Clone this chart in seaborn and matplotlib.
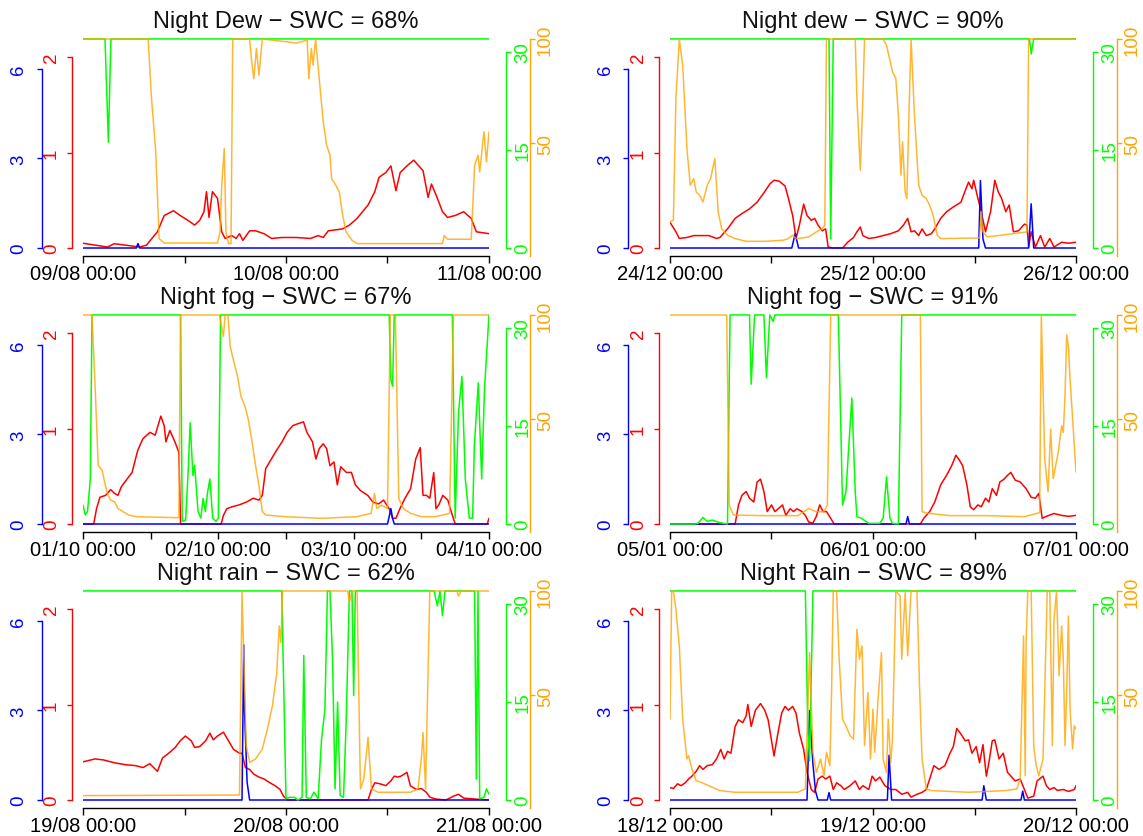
import numpy as np
import pandas as pd
import matplotlib
matplotlib.use("Agg")
import matplotlib.pyplot as plt
import seaborn as sns

# all series: hours since the first date label, and the value
# ---- Night Dew - SWC = 68% (09/08 -> 11/08)
dew68_days = ["09/08", "10/08", "11/08"]
dew68_red_h = [0, 2.9, 3.7, 5.0, 6.7, 7.5, 8.8, 9.6, 10.7, 11.5, 12.4, 13.2, 13.8, 14.3, 14.6, 14.9, 15.3, 15.9, 16.4, 16.8,
               17.6, 18.1, 18.5, 18.9, 19.7, 20.4, 21.4, 22.3, 23.5, 25.2, 26.9, 27.8, 28.4, 29.0, 30.7, 31.5, 32.4, 33.7, 34.5, 35.0,
               35.8, 36.4, 37.0, 37.5, 38.3, 39.1, 40.2, 40.8, 41.2, 41.9, 42.5, 43.1, 44.0, 45.0, 45.9, 46.5, 48.0]
dew68_red = [0.05, 0.01, 0.045, 0.03, 0.01, 0.03, 0.17, 0.34, 0.39, 0.34, 0.29, 0.24, 0.29, 0.38, 0.59, 0.32, 0.59, 0.52, 0.17, 0.10,
             0.13, 0.10, 0.15, 0.08, 0.18, 0.18, 0.15, 0.10, 0.11, 0.11, 0.10, 0.13, 0.11, 0.18, 0.20, 0.24, 0.31, 0.45, 0.59, 0.74,
             0.79, 0.86, 0.60, 0.79, 0.86, 0.92, 0.81, 0.53, 0.67, 0.52, 0.38, 0.32, 0.34, 0.38, 0.31, 0.17, 0.15]
dew68_orange_h = [0, 7.7, 8.1, 8.6, 9.0, 9.6, 15.9, 16.2, 16.4, 16.7, 16.9, 17.2, 17.5, 17.7, 19.7, 19.9, 20.2, 20.5, 20.8, 21.2,
                  24.0, 25.2, 26.5, 26.7, 27.0, 27.2, 27.5, 27.96, 28.4, 28.8, 29.2, 29.4, 29.9, 30.3, 30.7, 31.1, 31.8, 32.4, 42.5, 42.7,
                  43.1, 45.9, 46.3, 46.7, 46.9, 47.4, 47.7, 48.0]
dew68_orange = [100, 100, 71.6, 46, 4.5, 2.4, 2.4, 7.7, 30, 47.6, 7.7, 2.1, 2.1, 100, 100, 90.7, 81, 95.5, 82.7, 100,
                98.7, 98, 99.5, 81, 95.5, 87.5, 100, 79.6, 60.4, 49.2, 44.4, 33.2, 30, 26.8, 15.7, 7.7, 3.7, 2.1, 2.1, 6,
                4.2, 4.2, 39.6, 44.4, 36.4, 55.6, 41.2, 55.6]
dew68_green_h = [0, 2.6, 3.0, 3.3, 48]
dew68_green = [32, 32, 16.2, 32, 32]
dew68_blue_h = [0, 6.3, 6.5, 6.7, 48]
dew68_blue = [0, 0, 0.15, 0, 0]

# ---- Night dew - SWC = 90% (24/12 -> 26/12)
dew90_days = ["24/12", "25/12", "26/12"]
dew90_red_h = [0, 0.2, 0.7, 1.1, 2.0, 2.8, 3.7, 4.6, 5.5, 5.9, 6.8, 7.7, 8.5, 9.4, 10.3, 11.2, 11.8, 12.3, 12.9, 13.6,
               14.0, 14.5, 14.9, 15.3, 15.8, 16.2, 16.7, 17.1, 17.5, 18.0, 18.4, 18.7, 19.3, 20.4, 21.0, 21.7, 22.1, 22.5, 22.8, 23.5,
               24.3, 25.2, 26.1, 27.0, 27.6, 28.1, 28.5, 28.9, 29.4, 29.8, 30.3, 30.9, 31.3, 32.0, 32.7, 33.5, 34.4, 34.9, 35.3, 35.7,
               35.9, 36.4, 36.8, 37.3, 37.9, 38.4, 38.8, 39.2, 39.7, 40.1, 40.6, 41.2, 41.9, 42.2, 42.4, 42.7, 43.2, 43.8, 44.3, 44.9,
               45.4, 46.3, 47.1, 48.0]
dew90_red = [0.27, 0.24, 0.17, 0.10, 0.11, 0.13, 0.13, 0.13, 0.10, 0.11, 0.20, 0.31, 0.36, 0.41, 0.48, 0.59, 0.67, 0.71, 0.70, 0.65,
             0.52, 0.34, 0.10, 0.24, 0.46, 0.34, 0.29, 0.31, 0.24, 0.18, 0.20, 0.01, 0, 0, 0.06, 0.11, 0.17, 0.22, 0.13, 0.10,
             0.11, 0.13, 0.15, 0.18, 0.24, 0.31, 0.17, 0.18, 0.13, 0.20, 0.13, 0.15, 0.20, 0.31, 0.38, 0.43, 0.48, 0.60, 0.69, 0.62,
             0.71, 0.52, 0.38, 0.17, 0.38, 0.71, 0.59, 0.52, 0.38, 0.45, 0.17, 0.18, 0.25, 0.24, 0.01, 0.17, 0.01, 0.13, 0.01, 0.10,
             0.01, 0.06, 0.05, 0.06]
dew90_orange_h = [0, 0.4, 0.7, 1.1, 1.5, 2.0, 2.4, 2.8, 3.1, 3.5, 3.9, 4.4, 4.8, 5.3, 5.5, 5.7, 6.1, 6.8, 7.7, 9.0,
                  11.2, 13.4, 14.0, 14.5, 14.9, 15.6, 16.4, 17.3, 18.0, 18.3, 18.5, 21.9, 22.1, 22.5, 22.8, 23.0, 25.2, 25.6, 26.3, 26.7,
                  27.0, 27.3, 27.5, 27.8, 28.0, 28.3, 28.5, 28.9, 29.4, 29.8, 30.3, 30.7, 31.1, 31.6, 32.0, 36.6, 36.8, 37.0, 37.5, 42.2,
                  42.4, 48.0]
dew90_orange = [12.5, 13.3, 71.6, 100, 87.5, 47.6, 30, 33.2, 26.8, 25.2, 22, 30, 33.2, 42.8, 30, 17.3, 9.3, 6.1, 4.5, 3.2,
                3.2, 3.7, 4.5, 6.1, 4.5, 4.8, 5.3, 7.7, 9.3, 10.9, 100, 100, 71.6, 37.2, 71.6, 100, 100, 97.1, 84.3, 81.2,
                63.6, 34.8, 50.8, 26.8, 23.6, 71.6, 100, 63.6, 30, 25.2, 23.6, 20.4, 15.7, 6.1, 4.5, 4.8, 17.3, 7.7, 5.3, 7.7,
                100, 100]
dew90_green_h = [0, 18.8, 19.0, 19.3, 42.5, 42.7, 43.0, 48]
dew90_green = [32, 32, 1.4, 32, 32, 29.7, 32, 32]
dew90_blue_h = [0, 14.4, 14.8, 15.2, 36.5, 36.7, 37.0, 37.3, 42.4, 42.7, 43.0, 48]
dew90_blue = [0, 0, 0.48, 0, 0, 2.26, 0.3, 0, 0, 1.48, 0, 0]

# ---- Night fog - SWC = 67% (01/10 -> 04/10)
fog67_days = ["01/10", "02/10", "03/10", "04/10"]
fog67_red_h = [0, 1.9, 2.4, 3.0, 4.0, 4.9, 5.6, 6.2, 6.8, 7.8, 8.7, 9.7, 10.6, 11.3, 11.9, 12.8, 13.8, 14.4, 14.7, 15.4,
               16.3, 17.0, 17.3, 24.5, 24.9, 25.5, 26.4, 27.7, 29.0, 30.2, 31.2, 31.8, 32.4, 33.4, 34.3, 35.3, 36.2, 37.2, 38.1, 39.1,
               39.7, 40.7, 41.3, 41.9, 42.6, 43.2, 43.8, 44.5, 45.1, 45.7, 46.7, 47.6, 48.3, 49.2, 50.5, 51.4, 52.4, 53.3, 54.3, 54.9,
               55.5, 56.2, 57.1, 58.1, 59.0, 59.8, 60.3, 60.9, 61.5, 62.2, 62.6, 63.1, 63.8, 64.7, 65.3, 66.0, 71.7, 72.0]
fog67_red = [0, 0, 0.16, 0.28, 0.30, 0.36, 0.32, 0.30, 0.39, 0.47, 0.54, 0.77, 0.89, 0.93, 0.96, 0.93, 1.13, 1.03, 0.86, 0.98,
             0.86, 0.75, 0, 0, 0.09, 0.16, 0.18, 0.20, 0.23, 0.27, 0.25, 0.30, 0.58, 0.68, 0.77, 0.86, 0.96, 1.03, 1.05, 1.07,
             0.96, 0.86, 0.68, 0.79, 0.84, 0.79, 0.61, 0.65, 0.41, 0.60, 0.54, 0.54, 0.41, 0.35, 0.30, 0.23, 0.21, 0.25, 0.16, 0.06,
             0.06, 0.16, 0.27, 0.37, 0.68, 0.80, 0.30, 0.30, 0.27, 0.54, 0.16, 0.20, 0.30, 0.25, 0.13, 0, 0, 0.06]
fog67_orange_h = [0, 1.6, 2.1, 2.7, 3.4, 3.7, 4.3, 4.9, 5.6, 6.2, 7.1, 8.1, 9.4, 17.0, 17.3, 24.2, 24.9, 25.2, 25.7, 26.1,
                  26.8, 27.4, 28.0, 28.7, 29.3, 29.9, 30.6, 31.2, 31.8, 32.4, 35.9, 42.3, 48.6, 51.1, 51.7, 52.1, 53.0, 54.0, 54.5, 55.4,
                  56.0, 56.8, 58.1, 60.0, 62.5, 65.0, 65.7, 72.0]
fog67_orange = [100, 100, 69, 28, 25.6, 21.7, 14.6, 11.4, 10.6, 7.4, 5.9, 4.3, 3.5, 3.0, 100, 100, 89.7, 100, 100, 85,
                77, 70.7, 61.2, 56.5, 50.2, 40.7, 28, 18.5, 5.9, 4.3, 3.5, 2.7, 3.5, 5.1, 14.6, 7.4, 9, 7.4, 100, 100,
                12.2, 7.4, 5.1, 3.5, 3.5, 5.1, 100, 100]
fog67_green_h = [0, 0.4, 0.8, 1.3, 1.6, 17.3, 17.6, 18.2, 18.7, 19.0, 19.5, 19.8, 20.4, 20.9, 21.3, 21.7, 22.1, 22.5, 23.0, 23.6,
                 24.0, 24.4, 54.3, 54.6, 54.9, 55.2, 65.5, 66.0, 66.6, 67.2, 67.8, 68.5, 69.1, 69.4, 70.1, 70.7, 71.2, 72.0]
fog67_green = [2.9, 1.4, 1.9, 6.9, 32, 32, 0.4, 0.6, 9, 15.5, 7.4, 9, 1.9, 0.9, 3.9, 1.9, 4.9, 6.9, 0.9, 0.4,
               0.9, 32, 32, 22.1, 21.1, 32, 32, 0.9, 17.1, 22.6, 6.9, 0.9, 0.9, 12, 21.6, 6.9, 20.6, 32]
fog67_blue_h = [0, 54.0, 54.3, 54.6, 54.9, 55.2, 72]
fog67_blue = [0, 0, 0.25, 0.52, 0.19, 0, 0]

# ---- Night fog - SWC = 91% (05/01 -> 07/01)
fog91_days = ["05/01", "06/01", "07/01"]
fog91_red_h = [0, 7.7, 8.1, 8.5, 9.0, 9.4, 9.9, 10.3, 10.7, 11.1, 11.5, 12.0, 12.4, 12.8, 13.3, 13.7, 14.2, 14.6, 15.0, 15.6,
               16.0, 16.4, 16.9, 17.3, 17.7, 18.1, 18.5, 19.0, 19.4, 29.6, 30.0, 30.7, 31.3, 32.0, 32.7, 33.3, 33.8, 34.2, 34.6, 35.1,
               35.5, 35.9, 36.4, 36.8, 37.3, 37.7, 38.1, 38.6, 39.0, 39.5, 39.9, 40.3, 40.8, 41.4, 42.1, 42.7, 43.2, 43.6, 44.0, 44.5,
               45.4, 46.3, 47.1, 48.0]
fog91_red = [0, 0, 0.20, 0.30, 0.34, 0.27, 0.23, 0.44, 0.47, 0.34, 0.13, 0.20, 0.13, 0.16, 0.20, 0.09, 0.16, 0.13, 0.16, 0.13,
             0.09, 0.02, 0.01, 0.08, 0.20, 0.13, 0.13, 0.06, 0, 0, 0.06, 0.13, 0.23, 0.41, 0.51, 0.61, 0.72, 0.67, 0.61, 0.41,
             0.18, 0.15, 0.20, 0.18, 0.27, 0.23, 0.37, 0.30, 0.44, 0.47, 0.51, 0.54, 0.46, 0.44, 0.37, 0.28, 0.27, 0.32, 0.06, 0.08,
             0.11, 0.09, 0.08, 0.09]
fog91_orange_h = [0, 6.7, 7.0, 7.5, 11.2, 15.1, 16.4, 17.3, 18.2, 18.6, 19.0, 29.6, 29.8, 30.5, 33.1, 37.5, 41.9, 43.4, 43.7, 43.9,
                  44.3, 44.7, 45.0, 45.3, 45.6, 45.9, 46.3, 46.5, 46.7, 46.9, 47.1, 47.3, 47.6, 48.0]
fog91_orange = [100, 100, 9.0, 4.3, 4.0, 4.0, 7.4, 5.9, 5.9, 9.0, 100, 100, 5.9, 5.1, 4.0, 4.0, 3.5, 5.1, 5.4, 100,
                31.2, 15.4, 45.4, 21.7, 28, 34.3, 47, 43.8, 61.2, 90.5, 85, 69.1, 50.2, 24.8]
fog91_green_h = [0, 2.8, 3.3, 3.9, 4.4, 5.0, 5.9, 6.8, 7.1, 9.4, 9.6, 10.0, 11.1, 11.4, 11.8, 12.2, 12.4, 19.9, 20.4, 20.8,
                 21.5, 21.9, 22.1, 22.6, 23.5, 24.8, 25.2, 25.6, 26.0, 26.3, 27.0, 27.4, 48.0]
fog91_green = [0, 0, 0.1, 1.0, 0.4, 0.6, 0.2, 0, 32, 32, 21.4, 32, 32, 22.4, 32, 31, 32, 32, 2.9, 4.9,
               19.3, 4.9, 1.1, 0.9, 0.1, 0.1, 0.9, 7.2, 0.9, 0.1, 0, 32, 32]
fog91_blue_h = [0, 27.9, 28.1, 28.3, 48]
fog91_blue = [0, 0, 0.25, 0, 0]

# ---- Night rain - SWC = 62% (19/08 -> 21/08)
rain62_days = ["19/08", "20/08", "21/08"]
rain62_red_h = [0, 0.5, 1.4, 2.4, 3.7, 5.0, 6.2, 7.1, 7.9, 8.8, 9.4, 10.0, 10.9, 11.5, 12.1, 12.8, 13.2, 13.8, 14.5, 15.0,
                15.4, 15.9, 16.6, 17.2, 17.8, 18.5, 18.8, 19.2, 19.7, 20.2, 20.8, 21.4, 22.1, 22.7, 23.3, 23.7, 24.2, 33.7, 34.1, 34.5,
                35.1, 35.8, 36.4, 36.8, 37.2, 37.6, 38.3, 38.7, 39.4, 40.0, 40.6, 41.0, 41.7, 42.9, 43.8, 44.4, 45.0, 46.3, 48.0]
rain62_red = [0.40, 0.41, 0.43, 0.42, 0.39, 0.37, 0.36, 0.34, 0.38, 0.30, 0.44, 0.48, 0.55, 0.62, 0.67, 0.62, 0.55, 0.56, 0.62, 0.70,
              0.63, 0.67, 0.71, 0.62, 0.53, 0.49, 0.49, 0.34, 0.32, 0.27, 0.24, 0.22, 0.18, 0.15, 0.11, 0.04, 0, 0, 0.11, 0.18,
              0.17, 0.15, 0.20, 0.25, 0.24, 0.25, 0.29, 0.15, 0.11, 0.12, 0.08, 0.03, 0.01, 0, 0.04, 0.06, 0.02, 0.01, 0]
rain62_orange_h = [0, 18.5, 18.8, 19.3, 19.7, 20.4, 21.2, 21.8, 22.4, 22.7, 22.9, 23.2, 23.4, 23.6, 31.3, 31.5, 31.8, 32.4, 32.8, 33.2,
                   33.7, 34.1, 34.9, 38.7, 39.6, 40.0, 40.2, 40.5, 41.0, 44.2, 44.4, 44.7, 48.0]
rain62_orange = [2.1, 2.4, 100, 26, 18, 19.6, 24.4, 33.9, 45.1, 54.6, 60.2, 83.3, 75.3, 100, 100, 94.4, 100, 100, 5.3, 10,
                 30, 5.3, 3.7, 3.7, 5.3, 19.6, 32.3, 5.3, 100, 100, 97.6, 100, 100]
rain62_green_h = [0, 23.5, 24.0, 24.4, 25.0, 25.4, 25.9, 26.1, 26.4, 26.9, 27.3, 27.8, 28.2, 28.6, 28.9, 29.2, 29.5, 29.8, 30.1, 30.4,
                  30.8, 31.1, 31.5, 31.8, 32.0, 32.2, 41.5, 41.9, 42.2, 42.5, 42.8, 46.3, 46.5, 46.7, 46.9, 47.4, 47.7, 48.0]
rain62_green = [32, 32, 0.2, 0.4, 0.4, 0, 0.4, 22.1, 0.4, 0.2, 1.2, 0.2, 9.3, 13.9, 32, 32, 21.6, 1.7, 15, 0.7,
                0.4, 11.4, 32, 32, 16, 32, 32, 29.7, 32, 28.2, 32, 32, 3.2, 32, 0.2, 0.4, 1.7, 0.9]
rain62_blue_h = [0, 18.8, 19.0, 19.1, 19.4, 19.7, 48]
rain62_blue = [0, 0, 5.2, 3.0, 0.6, 0, 0]

# ---- Night Rain - SWC = 89% (18/12 -> 20/12)
rain89_days = ["18/12", "19/12", "20/12"]
rain89_red_h = [0, 0.4, 0.9, 1.3, 1.8, 2.2, 2.6, 3.1, 3.5, 3.9, 4.4, 5.0, 5.5, 6.0, 6.4, 6.8, 7.2, 7.7, 8.1, 8.6,
                9.0, 9.2, 9.6, 10.1, 10.7, 11.2, 11.6, 12.3, 12.7, 13.2, 13.6, 14.0, 14.5, 14.9, 15.3, 15.8, 16.2, 16.7, 17.1, 17.5,
                18.0, 18.4, 18.9, 19.3, 19.7, 20.2, 20.6, 21.3, 21.9, 22.4, 22.8, 23.5, 23.9, 24.3, 24.8, 25.4, 26.1, 26.7, 27.4, 28.1,
                28.5, 29.2, 29.8, 30.3, 30.7, 31.2, 31.8, 32.5, 33.1, 33.5, 33.9, 34.4, 34.9, 35.3, 35.7, 36.2, 36.6, 37.0, 37.4, 37.7,
                38.1, 38.4, 38.9, 39.4, 39.9, 40.3, 40.8, 41.4, 41.9, 42.3, 43.0, 43.4, 44.1, 44.5, 44.9, 45.4, 45.8, 46.5, 47.1, 47.8,
                48.0]
rain89_red = [0.13, 0.12, 0.17, 0.15, 0.18, 0.22, 0.25, 0.30, 0.36, 0.32, 0.36, 0.37, 0.43, 0.53, 0.43, 0.51, 0.49, 0.77, 0.84, 0.81,
              0.88, 1.00, 0.77, 0.94, 1.01, 0.94, 0.84, 0.46, 0.67, 0.91, 0.98, 0.94, 0.98, 0.91, 0.70, 0.53, 0.29, 0.11, 0.08, 0.22,
              0.25, 0.22, 0.25, 0.11, 0.18, 0.15, 0.11, 0.15, 0.20, 0.11, 0.15, 0.11, 0.25, 0.20, 0.24, 0.15, 0.11, 0.11, 0.06, 0.08,
              0.03, 0.06, 0.08, 0.11, 0.22, 0.36, 0.32, 0.36, 0.49, 0.56, 0.75, 0.69, 0.62, 0.63, 0.49, 0.56, 0.39, 0.58, 0.25, 0.39,
              0.62, 0.63, 0.43, 0.49, 0.29, 0.25, 0.20, 0.22, 0.11, 0.02, 0.04, 0.20, 0.25, 0.15, 0.11, 0.13, 0.10, 0.11, 0.09, 0.11,
              0.15]
rain89_orange_h = [0.0, 0.2, 0.4, 0.7, 1.1, 1.5, 2.0, 2.2, 2.6, 3.1, 3.7, 4.6, 5.9, 7.7, 11.2, 15.1, 16.0, 16.5, 16.9, 17.3,
                   17.8, 18.2, 18.5, 18.9, 19.1, 19.3, 19.7, 20.0, 20.4, 20.8, 21.3, 21.7, 22.1, 22.4, 22.7, 23.0, 23.4, 23.7, 24.0, 24.2,
                   24.6, 25.0, 25.2, 25.6, 25.8, 26.1, 26.3, 26.7, 27.2, 27.4, 27.8, 28.1, 28.5, 29.2, 29.5, 29.8, 30.3, 30.9, 35.3, 39.7,
                   41.0, 41.4, 41.8, 42.0, 42.1, 42.3, 42.7, 43.0, 43.3, 43.6, 44.1, 44.3, 44.6, 44.9, 45.2, 45.4, 45.7, 46.0, 46.3, 46.5,
                   46.7, 46.9, 47.1, 47.3, 47.6, 47.8, 48.0]
rain89_orange = [38.7, 100, 100, 91.2, 73.7, 38.7, 19.6, 21.2, 14.8, 9.2, 8.4, 6.8, 4.5, 3.7, 3.7, 3.7, 5.3, 70.5, 22.8, 13.2,
                 19.6, 11.6, 22.8, 16.4, 51.4, 100, 100, 67.4, 38.7, 35.5, 30.7, 29.1, 81.7, 67.4, 73.7, 26, 51.4, 19.6, 43.5, 22.8,
                 48.2, 70.5, 19.6, 13.2, 38.7, 18, 29.1, 100, 97.6, 67.4, 99.2, 69, 100, 100, 54.6, 19.6, 5.3, 4.5, 3.7, 4.5,
                 5.3, 10, 78.5, 11.6, 75.3, 100, 100, 26, 16.4, 11.6, 19.6, 51.4, 100, 100, 26, 86.5, 100, 59.4, 83.3, 67.4,
                 26, 51.4, 88, 43.5, 24.4, 35.5, 33.9]
rain89_green_h = [0, 16.0, 16.3, 16.5, 16.9, 48]
rain89_green = [32, 32, 10.5, 6.0, 32, 32]
rain89_blue_h = [0, 16.2, 16.5, 16.9, 17.2, 17.5, 18.6, 18.8, 19.0, 25.7, 25.9, 26.2, 36.9, 37.1, 37.4, 41.5, 41.7, 41.9, 48]
rain89_blue = [0, 0, 3.0, 1.2, 0.3, 0, 0, 0.25, 0, 0, 1.5, 0, 0, 0.48, 0, 0, 0.3, 0, 0]

panels = [
    ("Night Dew \u2212 SWC = 68%", dew68_days, (dew68_blue_h, dew68_blue), (dew68_red_h, dew68_red),
     (dew68_green_h, dew68_green), (dew68_orange_h, dew68_orange)),
    ("Night dew \u2212 SWC = 90%", dew90_days, (dew90_blue_h, dew90_blue), (dew90_red_h, dew90_red),
     (dew90_green_h, dew90_green), (dew90_orange_h, dew90_orange)),
    ("Night fog \u2212 SWC = 67%", fog67_days, (fog67_blue_h, fog67_blue), (fog67_red_h, fog67_red),
     (fog67_green_h, fog67_green), (fog67_orange_h, fog67_orange)),
    ("Night fog \u2212 SWC = 91%", fog91_days, (fog91_blue_h, fog91_blue), (fog91_red_h, fog91_red),
     (fog91_green_h, fog91_green), (fog91_orange_h, fog91_orange)),
    ("Night rain \u2212 SWC = 62%", rain62_days, (rain62_blue_h, rain62_blue), (rain62_red_h, rain62_red),
     (rain62_green_h, rain62_green), (rain62_orange_h, rain62_orange)),
    ("Night Rain \u2212 SWC = 89%", rain89_days, (rain89_blue_h, rain89_blue), (rain89_red_h, rain89_red),
     (rain89_green_h, rain89_green), (rain89_orange_h, rain89_orange)),
]

BLUE, RED, GREEN, ORANGE = "#0000FF", "#FF0000", "#00FF00", "#FFA500"
W, H = 1143, 837

sns.set_style("white")
plt.rcParams["font.family"] = ["Liberation Sans", "DejaVu Sans"]

fig = plt.figure(figsize=(W / 100, H / 100), dpi=100)


def px(v):
    # pixels -> points at 100 dpi
    return v * 0.72


def draw(a, series, color, alpha=1.0):
    df = pd.DataFrame({"h": series[0], "v": series[1]})
    sns.lineplot(data=df, x="h", y="v", ax=a, color=color, lw=1.1, alpha=alpha,
                 estimator=None, sort=False)
    a.set_xlabel("")
    a.set_ylabel("")


def style_y(a, side, offset_px, color, ylim, ticks, low, pad):
    a.set_ylim(*ylim)
    for s in a.spines.values():
        s.set_visible(False)
    sp = a.spines[side]
    sp.set_visible(True)
    sp.set_position(("outward", px(offset_px)))
    sp.set_bounds(low, ticks[-1])
    sp.set_color(color)
    sp.set_linewidth(1.0)
    a.yaxis.set_ticks_position(side)
    a.set_yticks(ticks)
    a.set_yticklabels([str(t) for t in ticks])
    a.tick_params(axis="y", colors=color, direction="out", length=px(5), width=1.0,
                  pad=pad, labelsize=13.5, labelrotation=90)
    for lab in a.get_yticklabels():
        lab.set_va("center")


for i, (title, days, blue, red, green, orange) in enumerate(panels):
    r, c = divmod(i, 2)
    left, right = 83 + 587 * c, 489 + 587 * c
    top, bottom = 33 + 276 * r, 257 + 276 * r
    ax = fig.add_axes([left / W, 1 - bottom / H, (right - left) / W, (bottom - top) / H])
    ax.patch.set_visible(False)
    ax_b = ax.twinx()
    ax_g = ax.twinx()
    ax_o = ax.twinx()

    draw(ax, red, RED)
    draw(ax_b, blue, BLUE)
    draw(ax_g, green, GREEN)
    draw(ax_o, orange, ORANGE, alpha=0.8)

    span = 24 * (len(days) - 1)
    style_y(ax, "left", 11, RED, (-0.0838, 2.262), [0, 1, 2], 0, 5)
    style_y(ax_b, "left", 41.5, BLUE, (-0.268, 7.24), [0, 3, 6], 0, 6.5)
    style_y(ax_g, "right", 17, GREEN, (-1.225, 33.06), [0, 15, 30], 0, 2.5)
    style_y(ax_o, "right", 41, ORANGE, (-3.83, 103.35), [50, 100], -3.83, 1.5)

    ax.set_xlim(0, span)
    ax.spines["bottom"].set_visible(True)
    ax.spines["bottom"].set_color("black")
    ax.spines["bottom"].set_linewidth(1.0)
    ax.spines["bottom"].set_bounds(0, span)
    xt = list(range(0, span + 1, 12))
    xl = [f"{days[k // 24]} 00:00" if k % 24 == 0 else "" for k in xt]
    ax.set_xticks(xt)
    ax.set_xticklabels(xl)
    ax.tick_params(axis="x", colors="black", direction="out", length=px(7), width=1.0,
                   pad=0.5, labelsize=14.5, bottom=True)
    ax.set_title(title, fontsize=17, pad=1.5, color="#111111")

fig.savefig("out.png", dpi=100)
